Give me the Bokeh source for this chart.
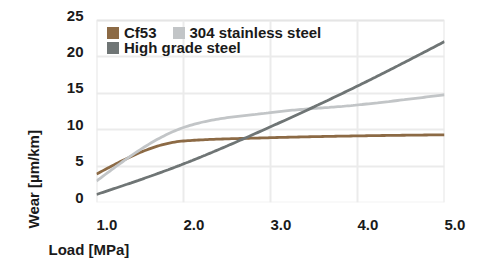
import numpy as np
from bokeh.plotting import figure
from bokeh.models import (Range1d, FixedTicker, Legend, LegendItem, Title,
                          ColumnDataSource, BoxAnnotation)
from bokeh.embed import file_html
from bokeh.resources import INLINE

# ---- data ----
load = [1.0, 2.0, 3.0, 4.0, 5.0]
cf53 = [3.9, 8.45, 8.9, 9.15, 9.3]
ss304 = [2.95, 10.3, 12.35, 13.4, 14.8]
high_grade = [1.1, 5.3, 10.4, 16.0, 22.1]
series_names = ["Cf53", "304 stainless steel", "High grade steel"]
x_ticks = [1, 2, 3, 4, 5]
x_tick_labels = ["1.0", "2.0", "3.0", "4.0", "5.0"]
y_ticks = [0, 5, 10, 15, 20, 25]
y_tick_labels = ["0", "5", "10", "15", "20", "25"]
x_title = "Load [MPa]"
y_title = "Wear [µm/km]"

colors = ["#8c6a45", "#c2c5c7", "#6f7575"]
FONT = "Liberation Sans"
GRID = "#ebebeb"
BORDER = "#d6d6d6"

X0, X1 = x_ticks[0], x_ticks[-1]
Y0, Y1 = y_ticks[0], y_ticks[-1]
FW, PLOT_H = 348, 182
LIFT = 5                       # px: y tick labels sit above their grid line
dy = LIFT * (Y1 - Y0) / PLOT_H


def monotone_curve(xs, ys, n=40):
    """Render a smooth monotone (d3 monotoneX-style) curve through the points."""
    xs = np.asarray(xs, float)
    ys = np.asarray(ys, float)
    h = np.diff(xs)
    s = np.diff(ys) / h
    m = np.zeros_like(ys)
    for i in range(1, len(xs) - 1):
        p = (s[i - 1] * h[i] + s[i] * h[i - 1]) / (h[i - 1] + h[i])
        m[i] = (np.sign(s[i - 1]) + np.sign(s[i])) * min(abs(s[i - 1]), abs(s[i]), 0.5 * abs(p))
    m[0] = (3 * s[0] - m[1]) / 2
    m[-1] = (3 * s[-1] - m[-2]) / 2
    out_x, out_y = [], []
    for i in range(len(xs) - 1):
        t = np.linspace(0, 1, n, endpoint=(i == len(xs) - 2))
        h00 = 2 * t**3 - 3 * t**2 + 1
        h10 = t**3 - 2 * t**2 + t
        h01 = -2 * t**3 + 3 * t**2
        h11 = t**3 - t**2
        out_x.extend(xs[i] + t * h[i])
        out_y.extend(h00 * ys[i] + h10 * h[i] * m[i] + h01 * ys[i + 1] + h11 * h[i] * m[i + 1])
    return out_x, out_y


p = figure(frame_width=FW, frame_height=PLOT_H + LIFT,
           min_border_left=96, min_border_right=37,
           min_border_top=20 - LIFT, min_border_bottom=58,
           x_range=Range1d(X0, X1), y_range=Range1d(Y0, Y1 + dy),
           output_backend="svg", toolbar_location=None)

p.extra_y_ranges = {"ylab": Range1d(Y0 - dy, Y1)}

p.background_fill_color = "white"
p.border_fill_color = "white"
p.outline_line_color = None

# horizontal grid lines
p.ygrid.ticker = FixedTicker(ticks=y_ticks)
p.ygrid.grid_line_color = GRID
p.ygrid.grid_line_width = 2
# vertical grid lines, limited to the value range
p.xgrid.visible = False
p.segment(x0=x_ticks, y0=[Y0] * len(x_ticks), x1=x_ticks, y1=[Y1] * len(x_ticks),
          line_color=GRID, line_width=2)

# plot-area border
p.add_layout(BoxAnnotation(left=X0, right=X1, bottom=Y0, top=Y1,
                           fill_alpha=0, line_color=BORDER, line_width=2,
                           level="underlay"))

xax = p.xaxis[0]
yax = p.yaxis[0]
yax.y_range_name = "ylab"

for ax in (xax, yax):
    ax.axis_line_color = None
    ax.major_tick_line_color = None
    ax.minor_tick_line_color = None
    ax.major_tick_out = 0
    ax.major_tick_in = 0
    ax.major_label_text_font = FONT
    ax.major_label_text_font_style = "bold"
    ax.major_label_text_font_size = "15px"
    ax.major_label_text_color = "#1a1a1a"

xax.ticker = FixedTicker(ticks=x_ticks)
xax.major_label_overrides = {t: l for t, l in zip(x_ticks, x_tick_labels)}
xax.major_label_orientation = -0.0001   # left-aligned labels
xax.major_label_standoff = 22

yax.ticker = FixedTicker(ticks=y_ticks)
yax.major_label_overrides = {t: l for t, l in zip(y_ticks, y_tick_labels)}
yax.major_label_standoff = 13

all_series = [cf53, ss304, high_grade]
swatches = []
for ys, c in zip(all_series, colors):
    cx, cy = monotone_curve(load, ys)
    p.line(cx, cy, line_color=c, line_width=2.8)
    src = ColumnDataSource(dict(left=[np.nan], right=[np.nan], top=[np.nan], bottom=[np.nan]))
    r = p.quad(left="left", right="right", top="top", bottom="bottom",
               fill_color=c, line_color=None, source=src)
    swatches.append(r)


def make_legend(items, loc):
    lg = Legend(items=items, location=loc, orientation="horizontal",
                background_fill_alpha=0, border_line_color=None,
                padding=0, margin=0, spacing=14, label_standoff=4,
                glyph_width=15, glyph_height=15, label_height=15,
                label_text_font=FONT, label_text_font_style="bold",
                label_text_font_size="15px", label_text_color="#1a1a1a")
    return lg

leg1 = make_legend([LegendItem(label=series_names[0], renderers=[swatches[0]]),
                    LegendItem(label=series_names[1], renderers=[swatches[1]])],
                   (9, 161))
leg2 = make_legend([LegendItem(label=series_names[2], renderers=[swatches[2]])],
                   (9, 146))
p.add_layout(leg1, "center")
p.add_layout(leg2, "center")

xt = Title(text=x_title, align="left", offset=-48, standoff=2,
           text_font=FONT, text_font_style="bold", text_font_size="15px",
           text_color="#1a1a1a")
yt = Title(text=y_title, align="left", offset=-26, standoff=43,
           text_font=FONT, text_font_style="bold", text_font_size="15px",
           text_color="#1a1a1a")
p.add_layout(xt, "below")
p.add_layout(yt, "left")

open("out.html", "w").write(file_html(p, INLINE))
